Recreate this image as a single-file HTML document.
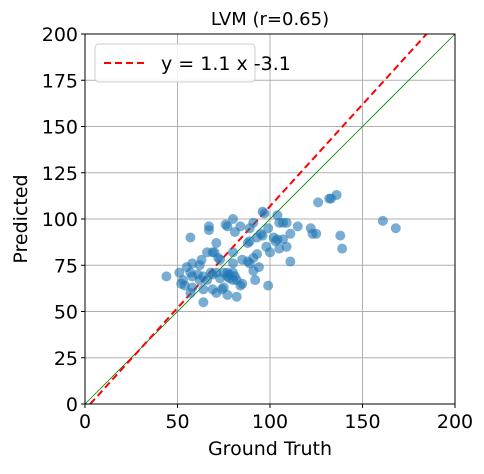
<!DOCTYPE html>
<html><head><meta charset="utf-8"><style>
body{margin:0;background:#fff;}
svg{font-family:"DejaVu Sans","Liberation Sans",sans-serif;}
</style></head><body>
<svg id="chart" width="484" height="469" viewBox="0 0 484 469">
<text x="270" y="25" font-size="18" text-anchor="middle">LVM (r=0.65)</text>
<g id="grid"></g>
<g id="lines"></g>
<g id="points"></g>
<rect x="85" y="34" width="370" height="370" fill="none" stroke="#000" stroke-width="1"/>
<g id="ticks"></g>
<text x="270" y="455" font-size="19" text-anchor="middle">Ground Truth</text>
<text x="27" y="219" font-size="19" text-anchor="middle" transform="rotate(-90 27 219)">Predicted</text>
<g>
<rect x="95" y="44" width="160" height="38" rx="4" fill="#fff" fill-opacity="0.85" stroke="#ccc"/>
<line x1="104" y1="63" x2="146" y2="63" stroke="red" stroke-width="2" stroke-dasharray="7,4"/>
<text x="161" y="70" font-size="19">y = 1.1 x -3.1</text>
</g>
</svg>
<script>
const xTicks=[0,50,100,150,200];
const yTicks=[0,25,50,75,100,125,150,175,200];
const slope=1.1, intercept=-3.1;
const gtValues=[126,132,136,133,96,97,80,67,67,76,77,84,91,89,99,104,105,107,109,115,122,123,125,111,57,81,95,96,93,88,89,102,103,104,107,98,100,105,109,111,71,66,69,70,72,73,63,58,62,80,80,85,88,91,93,94,91,89,51,55,57,58,61,53,52,54,44,62,64,66,68,69,71,73,75,77,78,80,81,82,80,78,77,84,85,92,99,58,57,64,69,71,74,77,82,64,75,161,168,138,139];
const predValues=[109,111,113,111,104,103,100,96,94,97,96,96,98,95,95,102,98,98,98,96,95,92,92,92,90,93,92,91,90,87,88,90,88,89,89,85,82,84,85,77,87,82,82,82,79,78,78,76,75,82,76,78,77,79,81,74,72,76,71,74,71,69,70,67,65,64,69,67,69,67,71,70,71,68,71,71,70,71,69,67,67,68,69,64,65,67,64,63,60,62,62,60,62,59,58,55,63,99,95,91,84];
const L=85,R=455,T=34,B=404;
const sx=v=>L+(v-0)/200*(R-L);
const sy=v=>B-(v-0)/200*(B-T);
const NS="http://www.w3.org/2000/svg";
function mk(tag,attrs,parent){const e=document.createElementNS(NS,tag);for(const k in attrs)e.setAttribute(k,attrs[k]);parent.appendChild(e);return e;}
const grid=document.getElementById('grid'),ticks=document.getElementById('ticks');
xTicks.forEach(t=>{
 const g=mk('line',{x1:sx(t),x2:sx(t),y1:T,y2:B,stroke:'#b0b0b0','stroke-width':1},grid);
 
 
 mk('line',{x1:sx(t),x2:sx(t),y1:B,y2:B+4,stroke:'#000'},ticks);
 const tx=mk('text',{x:sx(t),y:B+24,'font-size':19,'text-anchor':'middle'},ticks);
 tx.textContent=t;
 
 
});
yTicks.forEach(t=>{
 const g=mk('line',{x1:L,x2:R,y1:sy(t),y2:sy(t),stroke:'#b0b0b0','stroke-width':1},grid);
 
 
 mk('line',{x1:L-4,x2:L,y1:sy(t),y2:sy(t),stroke:'#000'},ticks);
 const tx=mk('text',{x:L-7,y:sy(t)+7,'font-size':19,'text-anchor':'end'},ticks);
 tx.textContent=t;
 
 
});
const lines=document.getElementById('lines');
const id=mk('line',{x1:sx(0),y1:sy(0),x2:sx(200),y2:sy(200),stroke:'green','stroke-width':0.8},lines);


const xEnd=(200-intercept)/slope, xStart=-intercept/slope;
const fit=mk('line',{x1:sx(xStart),y1:sy(0),x2:sx(xEnd),y2:sy(200),stroke:'red','stroke-width':2,'stroke-dasharray':'7,4'},lines);


const pts=document.getElementById('points');
gtValues.forEach((g,i)=>{
 const c=mk('circle',{cx:sx(g),cy:sy(predValues[i]),r:5,fill:'#1f77b4','fill-opacity':0.6},pts);
 
 
});
</script>
</body></html>
